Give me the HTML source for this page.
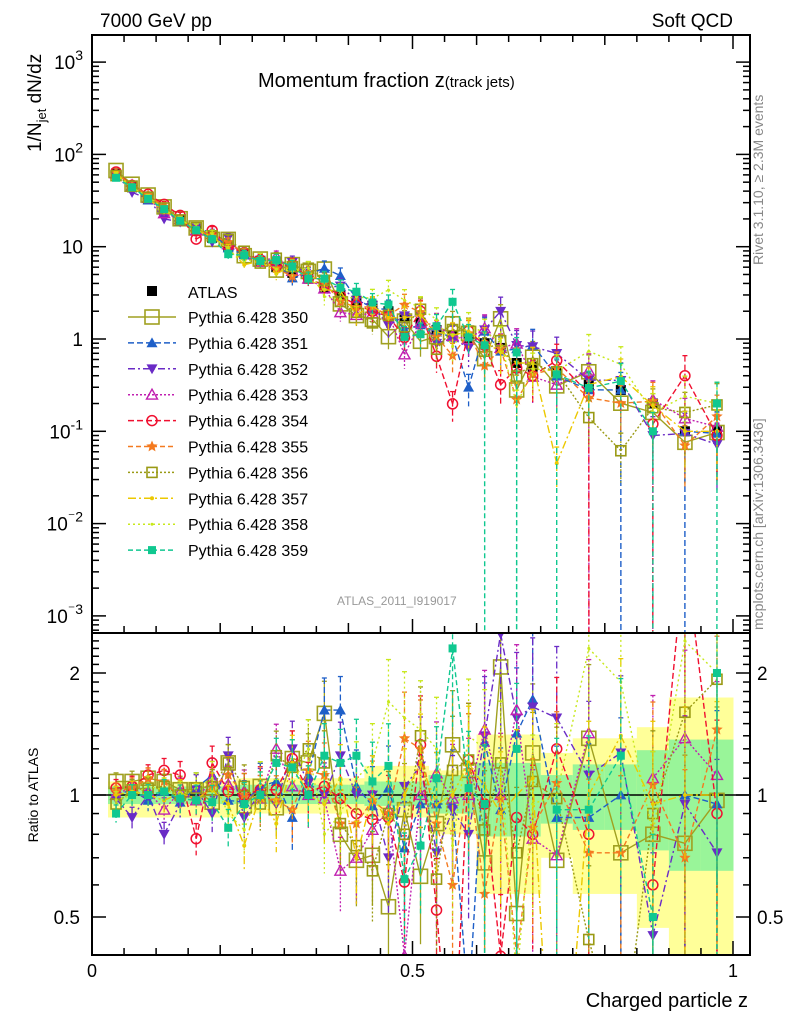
<!DOCTYPE html>
<html><head><meta charset="utf-8"><style>
html,body{margin:0;padding:0;background:#fff;width:786px;height:1024px;overflow:hidden;}
svg{display:block;font-family:"Liberation Sans",Arial,sans-serif;overflow:hidden;}
</style></head><body>
<svg id="chart" width="786" height="1024" viewBox="0 0 786 1024">
<defs>
<clipPath id="clipMain"><rect x="92" y="35" width="658" height="598"/></clipPath>
<clipPath id="clipRatio"><rect x="92" y="633" width="658" height="322"/></clipPath>
</defs>
<g id="bands" clip-path="url(#clipRatio)"></g>
<line x1="92" y1="795" x2="750" y2="795" stroke="#000" stroke-width="1.5"/>
<g id="mainMarks" clip-path="url(#clipMain)"></g>
<g id="ratioMarks" clip-path="url(#clipRatio)"></g>
<g id="axes"></g>
<rect x="92" y="35" width="658" height="598" fill="none" stroke="#000" stroke-width="2"/>
<rect x="92" y="633" width="658" height="322" fill="none" stroke="#000" stroke-width="2"/>
<text x="100" y="27" font-size="19">7000 GeV pp</text>
<text x="733" y="27" font-size="19" text-anchor="end">Soft QCD</text>
<text x="258" y="87" font-size="20">Momentum fraction z<tspan font-size="15">(track jets)</tspan></text>
<text x="337" y="605" font-size="12" fill="#999">ATLAS_2011_I919017</text>
<text transform="translate(41,152) rotate(-90)" font-size="19">1/N<tspan font-size="13" dy="5">jet</tspan><tspan dy="-5"> dN/dz</tspan></text>
<text transform="translate(38,795) rotate(-90)" font-size="14" text-anchor="middle">Ratio to ATLAS</text>
<text x="748" y="1007" font-size="20" text-anchor="end">Charged particle z</text>
<text transform="translate(763,265) rotate(-90)" font-size="14" fill="#888">Rivet 3.1.10, ≥ 2.3M events</text>
<text transform="translate(763,630) rotate(-90)" font-size="14" fill="#888">mcplots.cern.ch [arXiv:1306.3436]</text>
<g id="legend"></g>
</svg>
<script>
const binCenters=[0.0375,0.0625,0.0875,0.1125,0.1375,0.1625,0.1875,0.2125,0.2375,0.2625,0.2875,0.3125,0.3375,0.3625,0.3875,0.4125,0.4375,0.4625,0.4875,0.5125,0.5375,0.5625,0.5875,0.6125,0.6375,0.6625,0.6875,0.725,0.775,0.825,0.875,0.925,0.975];
const binEdges=[0.025,0.05,0.075,0.1,0.125,0.15,0.175,0.2,0.225,0.25,0.275,0.3,0.325,0.35,0.375,0.4,0.425,0.45,0.475,0.5,0.525,0.55,0.575,0.6,0.625,0.65,0.675,0.7,0.75,0.8,0.85,0.9,0.95,1.0];
const atlasValues=[62,44,33,25,19.5,15.5,12.5,10,8.5,7,6,5.2,4.5,3.6,3.0,2.6,2.3,2.0,1.7,1.5,1.25,1.1,1.0,0.9,0.8,0.55,0.5,0.45,0.32,0.28,0.2,0.1,0.1];
const relErr=[0.05,0.06,0.06,0.07,0.08,0.09,0.1,0.11,0.13,0.14,0.15,0.17,0.18,0.2,0.21,0.23,0.25,0.27,0.3,0.32,0.34,0.36,0.38,0.4,0.42,0.45,0.48,0.5,0.52,0.55,0.6,0.65,0.7];
const greenHi=[1.05,1.05,1.05,1.05,1.05,1.05,1.05,1.05,1.06,1.06,1.06,1.06,1.06,1.06,1.06,1.06,1.08,1.08,1.08,1.08,1.12,1.12,1.12,1.2,1.2,1.2,1.2,1.12,1.19,1.19,1.29,1.37,1.37];
const greenLo=[0.95,0.95,0.95,0.95,0.95,0.95,0.95,0.95,0.95,0.95,0.95,0.95,0.95,0.95,0.95,0.95,0.94,0.94,0.94,0.94,0.9,0.9,0.9,0.79,0.79,0.79,0.79,0.85,0.82,0.82,0.73,0.65,0.65];
const yellowHi=[1.08,1.08,1.08,1.08,1.08,1.08,1.08,1.08,1.1,1.1,1.1,1.1,1.1,1.1,1.1,1.1,1.18,1.18,1.18,1.18,1.15,1.15,1.15,1.41,1.41,1.41,1.41,1.27,1.38,1.38,1.47,1.74,1.74];
const yellowLo=[0.88,0.88,0.88,0.88,0.88,0.88,0.88,0.88,0.9,0.9,0.9,0.9,0.9,0.9,0.9,0.9,0.88,0.88,0.88,0.88,0.8,0.8,0.8,0.57,0.57,0.57,0.57,0.7,0.57,0.57,0.47,0.35,0.35];
const seriesNames=["Pythia 6.428 350","Pythia 6.428 351","Pythia 6.428 352","Pythia 6.428 353","Pythia 6.428 354","Pythia 6.428 355","Pythia 6.428 356","Pythia 6.428 357","Pythia 6.428 358","Pythia 6.428 359"];
const r350=[1.08,1.08,1.10,1.08,1.03,1.03,0.96,1.20,0.94,1.05,0.93,1.23,1.20,1.59,0.80,0.69,0.71,0.53,0.92,0.63,0.85,1.33,1.15,0.68,2.07,0.51,1.27,0.69,1.38,0.72,0.80,0.76,0.97];
const r351=[1.0,1.03,0.97,1.02,0.96,1.04,1.12,0.97,0.96,1.05,1.08,0.88,1.12,1.62,1.62,1.05,0.94,1.04,0.74,0.95,0.95,0.95,0.30,1.35,0.92,1.42,1.72,0.88,0.88,1.0,0.0,1.0,0.95];
const r352=[0.98,0.88,1.0,0.80,0.95,1.03,0.90,1.25,0.88,1.02,0.95,1.30,1.07,1.0,1.25,1.0,1.0,0.70,1.05,1.18,0.72,0.92,0.80,1.40,2.5,1.55,1.65,1.55,1.12,1.27,0.45,0.95,0.72];
const r353=[1.0,1.05,1.02,0.92,1.02,0.97,1.1,1.06,1.02,0.98,1.3,1.05,1.0,0.98,0.65,0.7,0.82,0.92,0.4,1.0,1.13,0.98,1.0,1.45,1.0,1.62,0.78,0.71,1.42,0.0,1.1,1.38,1.12];
const r354=[1.04,1.05,1.12,1.15,1.12,0.78,1.2,1.02,1.0,1.03,1.03,1.23,1.02,1.05,0.98,0.9,0.87,0.88,0.61,1.33,0.52,0.18,1.22,0.95,0.4,0.88,0.80,1.3,0.8,0.0,0.6,4.0,0.9];
const r355=[1.02,1.04,1.1,1.08,0.98,0.97,1.05,1.12,1.0,0.98,0.97,0.92,1.15,1.12,0.85,0.85,0.97,0.9,1.38,1.3,0.85,0.6,1.15,0.57,0.98,0.4,0.83,1.07,0.72,0.72,1.06,0.7,1.45];
const r356=[0.95,1.03,1.04,1.05,1.0,1.04,1.05,1.2,1.05,0.95,1.25,1.17,1.3,1.2,0.85,0.75,0.65,0.9,0.8,1.4,0.62,1.15,1.22,0.82,1.2,0.72,1.08,0.98,0.44,0.22,0.9,1.6,1.93];
const r357=[1.0,1.02,1.0,0.97,1.01,0.98,1.03,0.95,0.75,1.0,0.85,1.2,1.0,0.95,1.1,0.7,1.0,0.85,1.0,1.2,0.95,1.0,1.2,1.05,0.9,1.0,1.1,0.1,1.0,1.4,0.95,1.0,1.0];
const r358=[0.97,1.0,1.05,1.03,1.0,1.04,1.1,0.9,0.82,1.06,0.95,1.05,1.3,0.8,0.9,1.1,1.2,1.7,1.55,1.45,1.3,0.75,1.4,1.3,1.2,0.35,0.95,1.0,2.3,1.9,0.8,2.4,2.0];
const r359=[0.90,1.0,1.0,1.02,0.98,0.97,0.96,0.83,0.95,1.0,1.2,1.17,1.0,1.25,1.2,1.25,1.08,1.18,0.62,0.75,1.1,2.3,1.04,0.95,0.0,1.30,0.0,0.92,0.92,1.25,0.5,0.0,2.0];
const seriesRatios=[r350,r351,r352,r353,r354,r355,r356,r357,r358,r359];
const yTickLabels=["10³","10²","10","1","10⁻¹","10⁻²","10⁻³"];
const yTickValues=[1000,100,10,1,0.1,0.01,0.001];
const rTickValues=[2,1,0.5];
const rTickLabels=["2","1","0.5"];
const xTickValues=[0,0.5,1];
const xTickLabels=["0","0.5","1"];

const NS="http://www.w3.org/2000/svg";
function xS(z){return 92+641*z;}
function yM(v){return v>0?339-92.3*Math.log10(v):1e5;}
function yR(r){return r>0?795-122*Math.log2(r):1e5;}
function mk(tag,attrs,parent){const e=document.createElementNS(NS,tag);for(const k in attrs)e.setAttribute(k,attrs[k]);parent.appendChild(e);return e;}

const styles=[
{c:"#a0a020",d:"",m:"osq",s:7},
{c:"#1e5fc8",d:"6,3",m:"tri",s:5.5},
{c:"#6a2bc6",d:"7,3,2,3",m:"tridown",s:5.5},
{c:"#c020b0",d:"2,2",m:"otri",s:5.5},
{c:"#f01030",d:"6,3",m:"ocirc",s:5},
{c:"#f47a20",d:"5,3",m:"star",s:6},
{c:"#9a9a14",d:"2,2",m:"osq",s:5},
{c:"#ecc800",d:"8,3,2,3",m:"dot",s:2},
{c:"#c8e81c",d:"2,3",m:"dot",s:1.5},
{c:"#10c890",d:"5,3",m:"fsq",s:4}];

function marker(g,type,x,y,s,c){
  let e;
  if(type==="osq")e=mk("rect",{x:x-s,y:y-s,width:2*s,height:2*s,fill:"none",stroke:c,"stroke-width":1.6},g);
  else if(type==="fsq")e=mk("rect",{x:x-s,y:y-s,width:2*s,height:2*s,fill:c},g);
  else if(type==="tri")e=mk("polygon",{points:`${x},${y-s} ${x-s},${y+s*0.8} ${x+s},${y+s*0.8}`,fill:c},g);
  else if(type==="otri")e=mk("polygon",{points:`${x},${y-s} ${x-s},${y+s*0.8} ${x+s},${y+s*0.8}`,fill:"none",stroke:c,"stroke-width":1.4},g);
  else if(type==="tridown")e=mk("polygon",{points:`${x},${y+s} ${x-s},${y-s*0.8} ${x+s},${y-s*0.8}`,fill:c},g);
  else if(type==="ocirc")e=mk("circle",{cx:x,cy:y,r:s,fill:"none",stroke:c,"stroke-width":1.5},g);
  else if(type==="star"){let p=[];for(let i=0;i<10;i++){const a=-Math.PI/2+i*Math.PI/5,r=i%2?s*0.45:s;p.push((x+r*Math.cos(a)).toFixed(1)+","+(y+r*Math.sin(a)).toFixed(1));}e=mk("polygon",{points:p.join(" "),fill:c},g);}
  else e=mk("circle",{cx:x,cy:y,r:s,fill:c},g);
  return e;
}

const bandG=document.getElementById("bands");
for(let i=0;i<binCenters.length;i++){
  const x0=xS(binEdges[i]),x1=xS(binEdges[i+1]);
  const yh=yR(yellowHi[i]),yl=Math.min(yR(yellowLo[i]),960);
  const yb=mk("rect",{x:x0,y:yh,width:x1-x0+0.5,height:yl-yh,fill:"#ffff99"},bandG);
  
  
  const gb=mk("rect",{x:x0,y:yR(greenHi[i]),width:x1-x0+0.5,height:yR(greenLo[i])-yR(greenHi[i]),fill:"#99f599"},bandG);
  
  
}

const mainG=document.getElementById("mainMarks");
const ratioG=document.getElementById("ratioMarks");
const atlasG=mk("g",{},mainG);


for(let i=0;i<binCenters.length;i++){
  const x=xS(binCenters[i]),y=yM(atlasValues[i]);
  const sq=mk("rect",{x:x-5,y:y-5,width:10,height:10,fill:"#000"},atlasG);
  
  
}

function clipSeg(x1,y1,x2,y2,yMax){
  if(y1>yMax&&y2>yMax)return null;
  if(y1>yMax){const t=(yMax-y2)/(y1-y2);x1=x2+(x1-x2)*t;y1=yMax;}
  if(y2>yMax){const t=(yMax-y1)/(y2-y1);x2=x1+(x2-x1)*t;y2=yMax;}
  return [x1,y1,x2,y2];
}
function drawSeries(parent,k,valFn,yFn,name,yMax){
  const st=styles[k];
  const g=mk("g",{},parent);
  
  
  let d="";
  for(let i=0;i+1<binCenters.length;i++){
    const s=clipSeg(xS(binCenters[i]),yFn(valFn(i)),xS(binCenters[i+1]),yFn(valFn(i+1)),yMax);
    if(!s)continue;
    d+=`M${s[0].toFixed(1)},${s[1].toFixed(1)}L${s[2].toFixed(1)},${s[3].toFixed(1)}`;
  }
  const pl=mk("path",{d:d,fill:"none",stroke:st.c,"stroke-width":1.4,"stroke-dasharray":st.d},g);
  
  
  for(let i=0;i<binCenters.length;i++){
    const v=valFn(i);if(!(v>0))continue;
    const x=xS(binCenters[i]),e=relErr[i];
    const yc=yFn(v);if(yc>yMax)continue;
    const yt=Math.max(yFn(v*(1+e)),20),yb=Math.min(yFn(Math.max(v*(1-e),1e-9)),yMax);
    const eb=mk("line",{x1:x,y1:yt,x2:x,y2:yb,stroke:st.c,"stroke-width":1.3,"stroke-dasharray":st.d},g);
    
    
    mk("line",{x1:x-2.5,y1:yt,x2:x+2.5,y2:yt,stroke:st.c,"stroke-width":1.3},g);
    const m=marker(g,st.m,x,yc,st.s,st.c);
    
    
  }
}
for(let k=0;k<seriesRatios.length;k++){
  const r=seriesRatios[k];
  drawSeries(mainG,k,i=>atlasValues[i]*r[i],yM,"series-"+seriesNames[k].slice(-3)+"-main",645);
  drawSeries(ratioG,k,i=>r[i],yR,"series-"+seriesNames[k].slice(-3)+"-ratio",965);
}

const ax=document.getElementById("axes");
function tick(x1,y1,x2,y2){mk("line",{x1,y1,x2,y2,stroke:"#000","stroke-width":1.5},ax);}
for(let j=0;j<=20;j++){
  const z=j*0.05,x=xS(z);const L=(j%10===0)?14:(j%4===0?10:7);
  if(x>750)continue;
  tick(x,633,x,633-L);tick(x,955,x,955-L);tick(x,35,x,35+L);
}
for(let i=0;i<xTickValues.length;i++){
  const t=mk("text",{x:xS(xTickValues[i]),y:977,"font-size":18,"text-anchor":"middle"},ax);
  t.textContent=xTickLabels[i];
  
  
}
for(let d=-4;d<=3;d++){
  for(let m=1;m<10;m++){
    const v=m*Math.pow(10,d),y=yM(v);if(y<35||y>633)continue;
    const L=m===1?14:7;tick(92,y,92+L,y);tick(750,y,750-L,y);
  }
}
for(let i=0;i<yTickValues.length;i++){
  const y=yM(yTickValues[i]);
  const t=mk("text",{x:83,y:y+7,"font-size":19,"text-anchor":"end"},ax);
  const lab=yTickLabels[i];
  if(lab.startsWith("10")&&lab.length>2){t.textContent="10";const s=mk("tspan",{dy:-9,"font-size":14},t);s.textContent=lab.slice(2).replace("³","3").replace("²","2").replace("⁻¹","-1").replace("⁻²","-2").replace("⁻³","-3");}
  else t.textContent=lab;
  
  
}
for(let r=0.4;r<=2.5;r+=0.1){const y=yR(r);if(y<633||y>955)continue;const big=Math.abs(r-1)<0.01||Math.abs(r-2)<0.01||Math.abs(r-0.5)<0.01;tick(92,y,92+(big?14:7),y);tick(750,y,750-(big?14:7),y);}
for(let i=0;i<rTickValues.length;i++){
  const y=yR(rTickValues[i]);
  const t=mk("text",{x:80,y:y+7,"font-size":19,"text-anchor":"end"},ax);t.textContent=rTickLabels[i];
  
  
  const t2=mk("text",{x:757,y:y+7,"font-size":19},ax);t2.textContent=rTickLabels[i];
  
  
}

const lg=document.getElementById("legend");
const a=mk("rect",{x:147,y:286,width:10,height:10,fill:"#000"},lg);


const at=mk("text",{x:188,y:298,"font-size":16},lg);at.textContent="ATLAS";


for(let k=0;k<seriesNames.length;k++){
  const y=317+25.9*k,st=styles[k];
  mk("line",{x1:128,y1:y,x2:176,y2:y,stroke:st.c,"stroke-width":1.5,"stroke-dasharray":st.d},lg);
  const m=marker(lg,st.m,152,y,st.s,st.c);
  
  
  const t=mk("text",{x:188,y:y+6,"font-size":16},lg);t.textContent=seriesNames[k];
  
  
}
</script>
</body></html>
